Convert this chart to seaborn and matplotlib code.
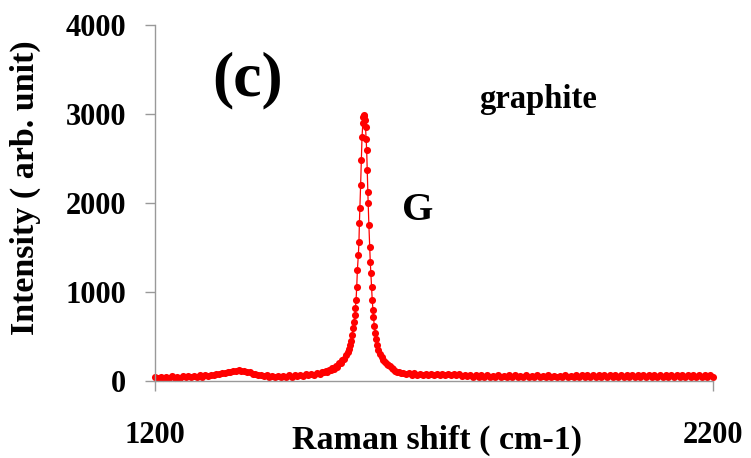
import matplotlib
matplotlib.use("Agg")
import matplotlib.pyplot as plt
import seaborn as sns
import pandas as pd
import numpy as np

# Raman spectrum of graphite
# region before the G band (incl. the small D band near 1350)
shift_low = [1200, 1205, 1210, 1215, 1220, 1225, 1230, 1235, 1240, 1245,
             1250, 1255, 1260, 1265, 1270, 1275, 1280, 1285, 1290, 1295,
             1300, 1305, 1310, 1315, 1320, 1325, 1330, 1335, 1340, 1345,
             1350, 1355, 1360, 1365, 1370, 1375, 1380, 1385, 1390, 1395,
             1400, 1405, 1410, 1415, 1420, 1425, 1430, 1435, 1440, 1445,
             1450, 1455, 1460, 1465, 1470, 1475, 1480, 1485, 1490, 1495, 1500]
int_low = [44, 32, 50, 36, 46, 30, 52, 38, 50, 36,
           54, 40, 56, 42, 60, 46, 62, 48, 66, 56,
           70, 62, 80, 76, 92, 88, 104, 100, 116, 108,
           124, 112, 118, 100, 102, 82, 84, 66, 70, 54,
           62, 48, 58, 44, 58, 44, 60, 46, 62, 48,
           64, 52, 68, 58, 74, 64, 80, 72, 90, 84, 100]

# G band
shift_peak = [1503, 1506, 1509, 1512, 1515, 1518, 1521, 1524, 1527, 1530,
              1533, 1536, 1539, 1542, 1545, 1547, 1549, 1551, 1553, 1555,
              1556.5, 1558, 1559.2, 1560.3, 1561.5, 1562.7, 1564.4, 1565.5, 1566.3, 1567.2,
              1568.5, 1569.8, 1571, 1572.5, 1573.5, 1574.3, 1575.3, 1576.3, 1577.3, 1578.3,
              1579.3, 1580.3, 1581.2, 1582, 1583.3, 1584.8, 1585.8, 1586.8, 1588, 1589.3,
              1590.5, 1591.5, 1593, 1594.5, 1596, 1598, 1600, 1603, 1606, 1609,
              1612, 1615, 1618, 1621, 1624, 1627, 1630, 1633, 1637, 1641, 1645, 1650]
int_peak = [96, 114, 106, 128, 120, 146, 140, 170, 162, 198,
            200, 236, 250, 296, 330, 365, 405, 455, 515, 590,
            660, 740, 820, 910, 1056, 1247, 1416, 1562, 1775, 1944,
            2202, 2483, 2742, 2900, 2966, 2985, 2975, 2930, 2850, 2720,
            2600, 2371, 2124, 2000, 1753, 1506, 1337, 1213, 1056, 910,
            800, 719, 620, 540, 470, 400, 350, 305, 265, 236,
            212, 192, 178, 165, 148, 130, 118, 106, 98, 92, 88, 84]

# flat tail up to 2200
shift_high = [1655, 1660, 1665, 1670, 1675, 1680, 1685, 1690, 1695, 1700,
              1705, 1710, 1715, 1720, 1725, 1730, 1735, 1740, 1745, 1750,
              1755, 1760, 1765, 1770, 1775, 1780, 1785, 1790, 1795, 1800,
              1805, 1810, 1815, 1820, 1825, 1830, 1835, 1840, 1845, 1850,
              1855, 1860, 1865, 1870, 1875, 1880, 1885, 1890, 1895, 1900,
              1905, 1910, 1915, 1920, 1925, 1930, 1935, 1940, 1945, 1950,
              1955, 1960, 1965, 1970, 1975, 1980, 1985, 1990, 1995, 2000,
              2005, 2010, 2015, 2020, 2025, 2030, 2035, 2040, 2045, 2050,
              2055, 2060, 2065, 2070, 2075, 2080, 2085, 2090, 2095, 2100,
              2105, 2110, 2115, 2120, 2125, 2130, 2135, 2140, 2145, 2150,
              2155, 2160, 2165, 2170, 2175, 2180, 2185, 2190, 2195, 2200]
int_high = [88, 72, 86, 70, 84, 68, 83, 66, 82, 64,
            81, 62, 80, 63, 78, 62, 77, 64, 74, 60,
            68, 54, 62, 48, 64, 46, 62, 44, 62, 45,
            60, 43, 62, 46, 60, 44, 62, 45, 63, 42,
            60, 46, 62, 43, 61, 44, 63, 45, 61, 43,
            62, 46, 60, 42, 61, 47, 63, 44, 61, 46,
            64, 45, 62, 43, 63, 46, 64, 44, 62, 45,
            63, 44, 62, 43, 64, 46, 64, 45, 62, 44,
            63, 46, 64, 45, 63, 44, 62, 46, 64, 45,
            63, 47, 65, 46, 64, 47, 65, 46, 64, 47,
            65, 48, 66, 47, 65, 48, 66, 47, 65, 48]

yticks = [0, 1000, 2000, 3000, 4000]
xticks = [1200, 2200]

df = pd.DataFrame({
    'shift': shift_low + shift_peak + shift_high,
    'intensity': int_low + int_peak + int_high,
})

sns.set_theme(style="white")
plt.rcParams['font.family'] = ['Liberation Serif', 'DejaVu Serif']
plt.rcParams['font.weight'] = 'bold'
plt.rcParams['text.color'] = 'black'
plt.rcParams['axes.labelcolor'] = 'black'

fig = plt.figure(figsize=(7.51, 4.58), dpi=100)
ax = fig.add_axes([0.2064, 0.1681, 0.743, 0.7773])

sns.lineplot(data=df, x='shift', y='intensity', ax=ax, color='#ff0000',
             marker='o', markersize=5.1, markeredgewidth=0, linewidth=0.9,
             estimator=None, sort=False, clip_on=False)

ax.set_xlim(1200, 2200)
ax.set_ylim(0, 4000)
ax.set_xticks(xticks)
ax.set_yticks(yticks)
ax.set_xticklabels([str(t) for t in xticks], fontsize=22, fontweight='bold')
ax.set_yticklabels([str(t) for t in yticks], fontsize=22, fontweight='bold')
ax.tick_params(axis='both', direction='out', length=7, width=1, color='#999999',
               labelcolor='black', bottom=True, left=True)
ax.tick_params(axis='x', pad=22)
ax.tick_params(axis='y', pad=14)

for side in ['top', 'right']:
    ax.spines[side].set_visible(False)
for side in ['left', 'bottom']:
    ax.spines[side].set_color('#999999')
    ax.spines[side].set_linewidth(1)

ax.set_xlabel('Raman shift ( cm-1)', fontsize=24.5, fontweight='bold', color='black')
ax.xaxis.set_label_coords(0.505, -0.168)
ax.xaxis.label.set_va('center')
ax.set_ylabel('Intensity ( arb. unit)', fontsize=24.5, fontweight='bold', color='black')
ax.yaxis.set_label_coords(-0.232, 0.542)
ax.yaxis.label.set_va('center')

ax.text(1302, 3382, '(c)', fontsize=46, fontweight='bold', va='center', ha='left', color='black')
ax.text(1780, 3067, 'graphite', fontsize=23.5, fontweight='bold', va='baseline', ha='left', color='black')
ax.text(1643, 1809, 'G', fontsize=29, fontweight='bold', va='baseline', ha='left', color='black')

fig.savefig('out.png', dpi=100)
